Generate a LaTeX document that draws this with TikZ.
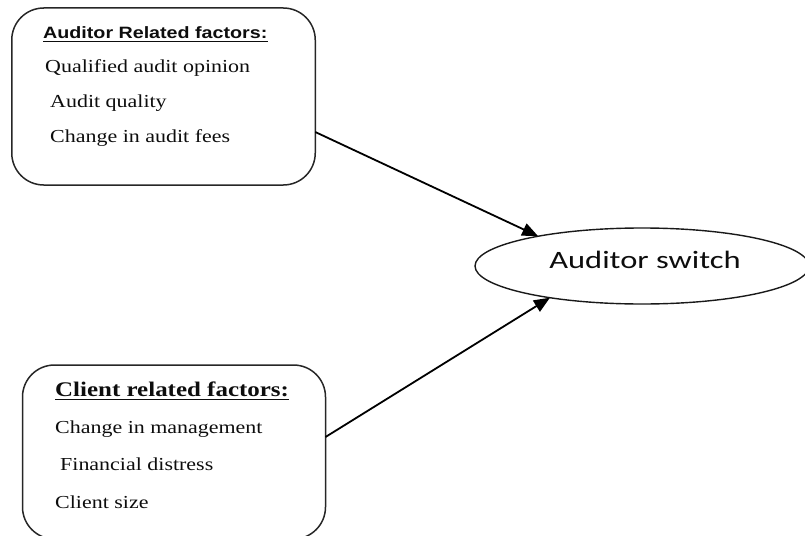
\documentclass[tikz,border=0pt]{standalone}
\usepackage{fontspec}
\setmainfont{Liberation Serif}
\newfontfamily\tnrwide[FakeStretch=1.2]{Liberation Serif}
\newfontfamily\arbwide[FakeStretch=1.2]{Liberation Sans}
\newfontfamily\carlwide[FakeStretch=1.3]{Carlito}
\usetikzlibrary{shapes.geometric,arrows.meta}
\begin{document}
\begin{tikzpicture}[x=1pt,y=-1pt,
  factorbox/.style={draw=black!85, line width=1.5pt, rounded corners=32pt, inner sep=0pt, outer sep=0pt},
  item/.style={anchor=base west, inner sep=0pt, font=\tnrwide\fontsize{18.3}{20}\selectfont, text=black!95},
  headrule/.style={line width=1.3pt, black!95},
  link/.style={-{Triangle[length=16pt,width=13pt]}, line width=1.8pt},
  outcome/.style={draw=black!90, ellipse, line width=1.4pt, minimum width=334pt, minimum height=76pt, inner sep=0pt, outer sep=0pt}]
\clip (0,0) rectangle (805,535);
% boxes
\node[factorbox, minimum width=303.5pt, minimum height=177pt] (auditorbox) at (163.5,96.5) {};
\node[factorbox, minimum width=303pt, minimum height=174pt] (clientbox) at (174,452) {};
\node[outcome] (switch) at (642,266) {};
\node[font=\carlwide\fontsize{25}{28}\selectfont, inner sep=0pt, text=black!95] (switchtext) at (645,260) {Auditor switch};
% auditor texts
\node[item, font=\arbwide\bfseries\fontsize{16.4}{18}\selectfont] (ah) at (43,38.5) {Auditor Related factors:};
\draw[headrule] ([yshift=-3pt]ah.base west) -- ([yshift=-3pt]ah.base east);
\node[item] (a1) at (45,73) {Qualified audit opinion};
\node[item] (a2) at (50,107) {Audit quality};
\node[item] (a3) at (50,142) {Change in audit fees};
% client texts
\node[item, font=\tnrwide\bfseries\fontsize{20.8}{22}\selectfont] (ch) at (55,396) {Client related factors:};
\draw[headrule] ([yshift=-3.5pt]ch.base west) -- ([yshift=-3.5pt]ch.base east);
\node[item] (c1) at (55,433) {Change in management};
\node[item] (c2) at (60,470) {Financial distress};
\node[item] (c3) at (55,508) {Client size};
% connectors
\draw[link] ([yshift=-35.5pt]auditorbox.east) -- (switch.164);
\draw[link] ([yshift=15pt]clientbox.east) -- (switch.199);
\end{tikzpicture}
\end{document}
